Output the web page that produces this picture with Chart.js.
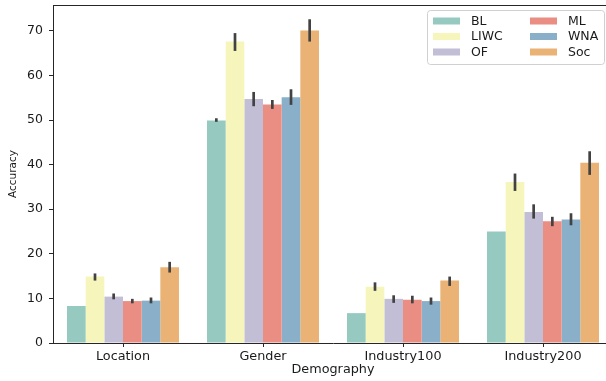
<!DOCTYPE html>
<html>
<head>
<meta charset="utf-8">
<script src="https://cdn.jsdelivr.net/npm/chart.js@4"></script>
<style>
  html, body { margin: 0; padding: 0; overflow: hidden; background: #fff; }
  #wrap { width: 613px; height: 381px; }
</style>
</head>
<body>
<div id="wrap"><canvas id="chart" width="613" height="381"></canvas></div>
<script>
'use strict';

// categories + series (bar heights)
const categories = ['Location', 'Gender', 'Industry100', 'Industry200'];
const methods = ['BL', 'LIWC', 'OF', 'ML', 'WNA', 'Soc'];

const blValues   = [8.3, 49.9, 6.7, 25.0];
const liwcValues = [14.9, 67.6, 12.6, 36.1];
const ofValues   = [10.4, 54.7, 9.9, 29.4];
const mlValues   = [9.4, 53.5, 9.7, 27.3];
const wnaValues  = [9.5, 55.1, 9.4, 27.7];
const socValues  = [17.0, 70.1, 14.0, 40.4];

// error bar ends (low / high)
const blLo   = [8.3, 49.6, 6.7, 25.0];
const blHi   = [8.3, 50.4, 6.7, 25.0];
const liwcLo = [14.0, 65.5, 11.7, 34.1];
const liwcHi = [15.6, 69.5, 13.6, 38.0];
const ofLo   = [9.8, 53.1, 9.0, 27.9];
const ofHi   = [11.1, 56.3, 10.7, 31.1];
const mlLo   = [8.9, 52.5, 8.9, 26.2];
const mlHi   = [9.9, 54.5, 10.6, 28.3];
const wnaLo  = [8.9, 53.4, 8.6, 26.4];
const wnaHi  = [10.2, 56.9, 10.2, 29.1];
const socLo  = [15.8, 67.6, 12.8, 37.7];
const socHi  = [18.2, 72.6, 14.9, 43.0];

const yTicks = [0, 10, 20, 30, 40, 50, 60, 70];

const colors = ['#96cac1', '#f6f6bc', '#c1bed6', '#ea8d83', '#8aafc9', '#eab375'];
const seriesValues = [blValues, liwcValues, ofValues, mlValues, wnaValues, socValues];
const seriesLo = [blLo, liwcLo, ofLo, mlLo, wnaLo, socLo];
const seriesHi = [blHi, liwcHi, ofHi, mlHi, wnaHi, socHi];

const FONT = 'DejaVu Sans';
const TEXT = '#1a1a1a';

// error bars drawn on top of bars, using the y scale
const errorBars = {
  id: 'errorBars',
  afterDatasetsDraw(chart) {
    const ctx = chart.ctx;
    const y = chart.scales.y;
    ctx.save();
    ctx.strokeStyle = '#424242';
    ctx.lineWidth = 2.7;
    ctx.lineCap = 'butt';
    chart.data.datasets.forEach((ds, d) => {
      const meta = chart.getDatasetMeta(d);
      meta.data.forEach((bar, i) => {
        const lo = seriesLo[d][i], hi = seriesHi[d][i];
        if (hi - lo < 0.01) return;
        ctx.beginPath();
        ctx.moveTo(bar.x, y.getPixelForValue(lo));
        ctx.lineTo(bar.x, y.getPixelForValue(hi));
        ctx.stroke();
      });
    });
    ctx.restore();
  }
};

// top spine + legend box in upper right
const frameAndLegend = {
  id: 'frameAndLegend',
  afterDraw(chart) {
    const ctx = chart.ctx;
    const a = chart.chartArea;
    ctx.save();
    ctx.strokeStyle = '#262626';
    ctx.lineWidth = 1;
    ctx.beginPath();
    ctx.moveTo(a.left, a.top + 0.5);
    ctx.lineTo(a.right, a.top + 0.5);
    ctx.stroke();

    // legend
    const bx = 427.5, by = 10.5, bw = 177, bh = 54;
    ctx.fillStyle = 'rgba(255,255,255,0.85)';
    ctx.strokeStyle = '#d0d0d0';
    ctx.beginPath();
    ctx.roundRect(bx, by, bw, bh, 3);
    ctx.fill();
    ctx.stroke();

    const colX = [433, 530];
    const rowY = [21, 36.5, 52];
    ctx.font = '12.5px "' + FONT + '"';
    ctx.textBaseline = 'middle';
    ctx.textAlign = 'left';
    methods.forEach((name, k) => {
      const c = Math.floor(k / 3), r = k % 3;
      ctx.fillStyle = colors[k];
      ctx.fillRect(colX[c], rowY[r] - 3.5, 27, 7);
      ctx.fillStyle = TEXT;
      ctx.fillText(name, colX[c] + 38, rowY[r] + 0.5);
    });
    ctx.restore();
  }
};

const datasets = methods.map((name, k) => ({
  label: name,
  data: seriesValues[k],
  backgroundColor: colors[k],
  borderWidth: 0,
  categoryPercentage: 0.8,
  barPercentage: 1.0
}));

new Chart(document.getElementById('chart'), {
  type: 'bar',
  data: { labels: categories, datasets: datasets },
  plugins: [errorBars, frameAndLegend],
  options: {
    responsive: false,
    animation: false,
    devicePixelRatio: 1,
    layout: { padding: { top: 5, left: 0, right: 0, bottom: 0 } },
    plugins: {
      legend: { display: false },
      tooltip: { enabled: false }
    },
    scales: {
      x: {
        offset: true,
        grid: { display: true, drawOnChartArea: false, offset: false, color: '#262626', tickLength: 4, tickWidth: 1 },
        border: { display: true, color: '#262626', width: 1 },
        ticks: { color: TEXT, font: { family: FONT, size: 12.8 }, padding: 2, maxRotation: 0 },
        title: { display: true, text: 'Demography', color: TEXT, font: { family: FONT, size: 12.8 }, padding: { top: 0, bottom: 4 } },
        afterFit(scale) {
          scale.height = 38;
          scale.paddingLeft = 0;
          scale.paddingRight = 0;
        }
      },
      y: {
        min: 0,
        max: 75.8,
        afterBuildTicks(scale) { scale.ticks = yTicks.map(v => ({ value: v })); },
        grid: { display: true, drawOnChartArea: false, color: '#262626', tickLength: 4, tickWidth: 1 },
        border: { display: true, color: '#262626', width: 1 },
        ticks: { color: TEXT, font: { family: FONT, size: 12.5 }, padding: 6 },
        title: { display: true, text: 'Accuracy', color: TEXT, font: { family: FONT, size: 10.5 }, padding: { top: 7, bottom: 0 } },
        afterFit(scale) {
          scale.width = 53;
          scale.paddingTop = 0;
          scale.paddingBottom = 0;
        }
      }
    }
  }
});
</script>
</body>
</html>
